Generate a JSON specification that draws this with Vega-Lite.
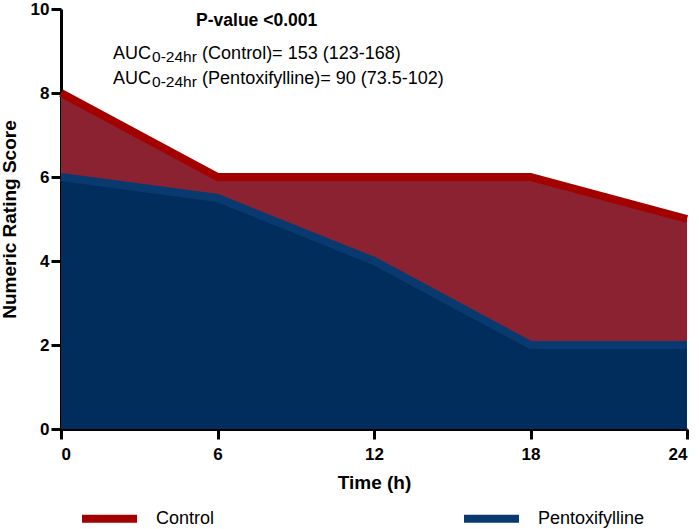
{
  "$schema": "https://vega.github.io/schema/vega-lite/v6.json",
  "width": 626,
  "height": 420,
  "padding": {"left": 0, "top": 0, "right": 0, "bottom": 0},
  "background": "white",
  "datasets": {
    "scores": [
      {"t": 0, "score": 8, "group": "Control"},
      {"t": 6, "score": 6, "group": "Control"},
      {"t": 12, "score": 6, "group": "Control"},
      {"t": 18, "score": 6, "group": "Control"},
      {"t": 24, "score": 5, "group": "Control"},
      {"t": 0, "score": 6, "group": "Pentoxifylline"},
      {"t": 6, "score": 5.5, "group": "Pentoxifylline"},
      {"t": 12, "score": 4, "group": "Pentoxifylline"},
      {"t": 18, "score": 2, "group": "Pentoxifylline"},
      {"t": 24, "score": 2, "group": "Pentoxifylline"}
    ],
    "notes": [
      {"t": 7.5, "score": 9.6, "role": "p", "label": "P-value <0.001"},
      {"t": 3.45, "score": 8.816, "role": "auc", "label": "AUC"},
      {"t": 3.49, "score": 8.744, "role": "sub", "label": "0-24hr"},
      {"t": 5.41, "score": 8.816, "role": "rest", "label": "(Control)= 153 (123-168)"},
      {"t": 3.45, "score": 8.204, "role": "auc", "label": "AUC"},
      {"t": 3.49, "score": 8.142, "role": "sub", "label": "0-24hr"},
      {"t": 5.41, "score": 8.204, "role": "rest", "label": "(Pentoxifylline)= 90 (73.5-102)"}
    ]
  },
  "layer": [
    {
      "data": {"name": "scores"},
      "mark": {"type": "area", "interpolate": "linear"},
      "encoding": {
        "x": {
          "field": "t",
          "type": "quantitative",
          "scale": {"domain": [0, 24], "nice": false},
          "axis": {"values": [0, 6, 12, 18, 24], "title": "Time (h)", "labelPadding": 7, "titlePadding": 11, "titleFontSize": 19}
        },
        "y": {
          "field": "score",
          "type": "quantitative",
          "stack": null,
          "scale": {"domain": [0, 10], "nice": false},
          "axis": {"values": [0, 2, 4, 6, 8, 10], "title": "Numeric Rating Score", "labelPadding": 2, "titlePadding": 11, "titleFontSize": 19}
        },
        "detail": {"field": "group"},
        "fill": {
          "condition": {"test": "datum.group === 'Control'", "value": "#8B2232"},
          "value": "#002D5C"
        }
      }
    },
    {
      "data": {"name": "scores"},
      "mark": {"type": "line", "strokeWidth": 8, "strokeCap": "butt", "strokeJoin": "miter"},
      "encoding": {
        "x": {"field": "t", "type": "quantitative"},
        "y": {"field": "score", "type": "quantitative"},
        "color": {
          "field": "group",
          "type": "nominal",
          "scale": {"domain": ["Control", "Pentoxifylline"], "range": ["#A30000", "#083A70"]},
          "legend": {
            "title": null,
            "orient": "bottom",
            "direction": "horizontal",
            "symbolType": "stroke",
            "symbolSize": 3025,
            "symbolStrokeWidth": 8,
            "labelFont": "Liberation Sans",
            "labelFontSize": 18,
            "labelColor": "black",
            "labelOffset": 15,
            "columnPadding": 233,
            "padding": 17,
            "offset": -22
          }
        }
      }
    },
    {
      "data": {"name": "notes"},
      "transform": [{"filter": "datum.role === 'p'"}],
      "mark": {"type": "text", "align": "center", "baseline": "alphabetic", "font": "Liberation Sans", "fontWeight": "bold", "fontSize": 17.5, "color": "black"},
      "encoding": {
        "x": {"field": "t", "type": "quantitative"},
        "y": {"field": "score", "type": "quantitative"},
        "text": {"field": "label"}
      }
    },
    {
      "data": {"name": "notes"},
      "transform": [{"filter": "datum.role === 'auc'"}],
      "mark": {"type": "text", "align": "right", "baseline": "alphabetic", "font": "Liberation Sans", "fontSize": 18, "color": "black"},
      "encoding": {
        "x": {"field": "t", "type": "quantitative"},
        "y": {"field": "score", "type": "quantitative"},
        "text": {"field": "label"}
      }
    },
    {
      "data": {"name": "notes"},
      "transform": [{"filter": "datum.role === 'sub'"}],
      "mark": {"type": "text", "align": "left", "baseline": "alphabetic", "font": "Liberation Sans", "fontSize": 15.5, "color": "black"},
      "encoding": {
        "x": {"field": "t", "type": "quantitative"},
        "y": {"field": "score", "type": "quantitative"},
        "text": {"field": "label"}
      }
    },
    {
      "data": {"name": "notes"},
      "transform": [{"filter": "datum.role === 'rest'"}],
      "mark": {"type": "text", "align": "left", "baseline": "alphabetic", "font": "Liberation Sans", "fontSize": 18, "color": "black"},
      "encoding": {
        "x": {"field": "t", "type": "quantitative"},
        "y": {"field": "score", "type": "quantitative"},
        "text": {"field": "label"}
      }
    }
  ],
  "config": {
    "view": {"stroke": null},
    "font": "Liberation Sans",
    "axis": {
      "grid": false,
      "domainColor": "black",
      "domainWidth": 3,
      "tickColor": "black",
      "tickWidth": 3,
      "tickSize": 10,
      "labelFont": "Liberation Sans",
      "labelFontSize": 17,
      "labelFontWeight": "bold",
      "labelColor": "black",
      "titleFont": "Liberation Sans",
      "titleFontWeight": "bold",
      "titleColor": "black"
    }
  }
}
